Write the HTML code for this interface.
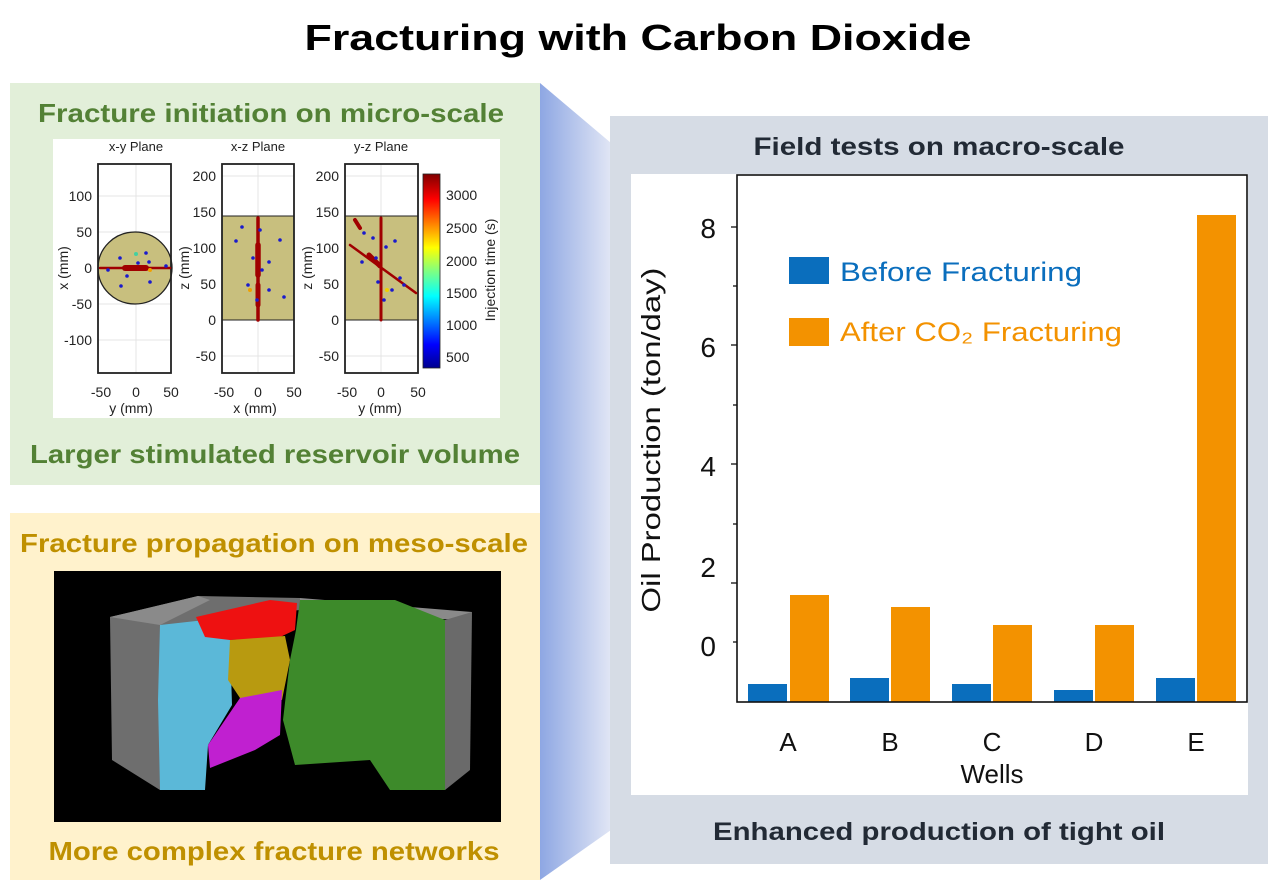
<!DOCTYPE html>
<html><head><meta charset="utf-8"><style>
html,body{margin:0;padding:0;background:#fff;}
svg{display:block;}
text{font-family:"Liberation Sans",Arial,sans-serif;}
</style></head><body>
<svg width="1268" height="887" viewBox="0 0 1268 887" xmlns="http://www.w3.org/2000/svg">
<defs>
<linearGradient id="bg" x1="0" y1="0" x2="1" y2="0">
<stop offset="0" stop-color="#8ea7e3"/><stop offset="1" stop-color="#e1e6f5"/>
</linearGradient>
<linearGradient id="jet" x1="0" y1="1" x2="0" y2="0">
<stop offset="0" stop-color="#00008f"/><stop offset="0.12" stop-color="#0000ff"/>
<stop offset="0.37" stop-color="#00ffff"/><stop offset="0.5" stop-color="#80ff80"/>
<stop offset="0.62" stop-color="#ffff00"/><stop offset="0.87" stop-color="#ff0000"/>
<stop offset="1" stop-color="#800000"/>
</linearGradient>
</defs>
<rect width="1268" height="887" fill="#fff"/>
<text x="638" y="50" text-anchor="middle" font-size="36" font-weight="bold" textLength="667" lengthAdjust="spacingAndGlyphs" fill="#000">Fracturing with Carbon Dioxide</text>

<!-- blue connector -->
<polygon points="540,83 611,143 611,830 540,880" fill="url(#bg)"/>

<!-- green panel -->
<rect x="10" y="83" width="530" height="402" fill="#e2efd9"/>
<text x="271" y="122" text-anchor="middle" font-size="26" font-weight="bold" fill="#538135" textLength="466" lengthAdjust="spacingAndGlyphs">Fracture initiation on micro-scale</text>
<text x="275" y="463" text-anchor="middle" font-size="26" font-weight="bold" fill="#538135" textLength="490" lengthAdjust="spacingAndGlyphs">Larger stimulated reservoir volume</text>
<rect x="53" y="139" width="447" height="279" fill="#fff"/>
<g font-size="13" fill="#222">
<text x="136" y="151" text-anchor="middle">x-y Plane</text>
<text x="258" y="151" text-anchor="middle">x-z Plane</text>
<text x="381" y="151" text-anchor="middle">y-z Plane</text>
</g>
<!-- xy -->
<g stroke="#e4e4e4" stroke-width="1">
<line x1="136" y1="164" x2="136" y2="373"/><line x1="98" y1="196" x2="171" y2="196"/><line x1="98" y1="232" x2="171" y2="232"/><line x1="98" y1="268" x2="171" y2="268"/><line x1="98" y1="304" x2="171" y2="304"/><line x1="98" y1="340" x2="171" y2="340"/>
<line x1="258" y1="164" x2="258" y2="373"/><line x1="222" y1="176" x2="294" y2="176"/><line x1="222" y1="356" x2="294" y2="356"/>
<line x1="381" y1="164" x2="381" y2="373"/><line x1="345" y1="176" x2="418" y2="176"/><line x1="345" y1="356" x2="418" y2="356"/>
</g>
<ellipse cx="135" cy="268" rx="37" ry="36" fill="#c8bf7e" stroke="#222" stroke-width="1.3"/>
<rect x="222" y="216" width="72" height="104" fill="#c8bf7e" stroke="#222" stroke-width="1"/>
<rect x="345" y="216" width="73" height="104" fill="#c8bf7e" stroke="#222" stroke-width="1"/>
<g fill="none" stroke="#222" stroke-width="1.8">
<rect x="98" y="164" width="73" height="209"/>
<rect x="222" y="164" width="72" height="209"/>
<rect x="345" y="164" width="73" height="209"/>
</g>
<!-- fracture dots -->
<g stroke="#a00000" stroke-linecap="round">
<line x1="100" y1="268" x2="170" y2="268" stroke-width="2.5"/>
<line x1="125" y1="268" x2="146" y2="268" stroke-width="6"/>
<line x1="258" y1="218" x2="258" y2="320" stroke-width="3.5"/>
<line x1="258" y1="245" x2="258" y2="275" stroke-width="5.5"/>
<line x1="258" y1="285" x2="258" y2="305" stroke-width="5"/>
<line x1="381" y1="218" x2="381" y2="320" stroke-width="3"/>
<line x1="350" y1="245" x2="416" y2="293" stroke-width="2.5"/>
<line x1="355" y1="220" x2="360" y2="228" stroke-width="4"/>
<line x1="369" y1="255" x2="380" y2="266" stroke-width="5"/>
</g>
<g fill="#1a1acc">
<circle cx="120" cy="258" r="1.8"/><circle cx="149" cy="262" r="1.8"/><circle cx="127" cy="276" r="1.8"/><circle cx="121" cy="286" r="1.8"/><circle cx="150" cy="282" r="1.8"/><circle cx="146" cy="253" r="1.8"/><circle cx="138" cy="263" r="1.8"/><circle cx="108" cy="270" r="1.8"/><circle cx="166" cy="266" r="1.8"/>
<circle cx="242" cy="227" r="1.8"/><circle cx="236" cy="241" r="1.8"/><circle cx="280" cy="240" r="1.8"/><circle cx="253" cy="258" r="1.8"/><circle cx="269" cy="262" r="1.8"/><circle cx="248" cy="285" r="1.8"/><circle cx="269" cy="290" r="1.8"/><circle cx="284" cy="297" r="1.8"/><circle cx="260" cy="230" r="1.8"/><circle cx="257" cy="300" r="1.8"/><circle cx="262" cy="270" r="1.8"/>
<circle cx="373" cy="238" r="1.8"/><circle cx="395" cy="241" r="1.8"/><circle cx="386" cy="247" r="1.8"/><circle cx="362" cy="262" r="1.8"/><circle cx="400" cy="278" r="1.8"/><circle cx="404" cy="285" r="1.8"/><circle cx="378" cy="282" r="1.8"/><circle cx="384" cy="300" r="1.8"/><circle cx="376" cy="258" r="1.8"/><circle cx="364" cy="233" r="1.8"/><circle cx="392" cy="290" r="1.8"/>
</g>
<circle cx="136" cy="254" r="2" fill="#44d0a0"/><circle cx="150" cy="270" r="2" fill="#f0a000"/><circle cx="250" cy="290" r="2" fill="#f0a000"/><circle cx="387" cy="290" r="2" fill="#f0d000"/>
<!-- tick labels -->
<g font-size="14" fill="#222" text-anchor="end">
<text x="92" y="201">100</text><text x="92" y="237">50</text><text x="92" y="273">0</text><text x="92" y="309">-50</text><text x="92" y="345">-100</text>
<text x="216" y="181">200</text><text x="216" y="217">150</text><text x="216" y="253">100</text><text x="216" y="289">50</text><text x="216" y="325">0</text><text x="216" y="361">-50</text>
<text x="339" y="181">200</text><text x="339" y="217">150</text><text x="339" y="253">100</text><text x="339" y="289">50</text><text x="339" y="325">0</text><text x="339" y="361">-50</text>
</g>
<g font-size="14" fill="#222" text-anchor="middle">
<text x="101" y="397">-50</text><text x="136" y="397">0</text><text x="171" y="397">50</text>
<text x="224" y="397">-50</text><text x="258" y="397">0</text><text x="294" y="397">50</text>
<text x="347" y="397">-50</text><text x="381" y="397">0</text><text x="418" y="397">50</text>
<text x="131" y="413">y (mm)</text><text x="255" y="413">x (mm)</text><text x="380" y="413">y (mm)</text>
<text transform="translate(68,268) rotate(-90)">x (mm)</text>
<text transform="translate(189,268) rotate(-90)">z (mm)</text>
<text transform="translate(312,268) rotate(-90)">z (mm)</text>
<text transform="translate(495,270) rotate(-90)">Injection time (s)</text>
</g>
<rect x="423" y="174" width="17" height="194" fill="url(#jet)" stroke="#222" stroke-width="0.8"/>
<g font-size="14" fill="#222">
<text x="446" y="200">3000</text><text x="446" y="233">2500</text><text x="446" y="266">2000</text><text x="446" y="298">1500</text><text x="446" y="330">1000</text><text x="446" y="362">500</text>
</g>

<!-- yellow panel -->
<rect x="10" y="513" width="530" height="367" fill="#fff2cc"/>
<text x="274" y="552" text-anchor="middle" font-size="26" font-weight="bold" fill="#bf9000" textLength="508" lengthAdjust="spacingAndGlyphs">Fracture propagation on meso-scale</text>
<text x="274" y="860" text-anchor="middle" font-size="26" font-weight="bold" fill="#bf9000" textLength="451" lengthAdjust="spacingAndGlyphs">More complex fracture networks</text>
<rect x="54" y="571" width="447" height="251" fill="#000"/>
<polygon points="110,617 198,596 300,598 300,610 200,620 160,640 160,790 112,760" fill="#6e6e6e"/>
<polygon points="110,617 198,596 210,600 160,625" fill="#8a8a8a"/>
<polygon points="300,598 472,612 462,620 300,612" fill="#8a8a8a"/>
<polygon points="445,620 472,612 470,770 445,790" fill="#6a6a6a"/>
<polygon points="160,625 205,620 230,640 232,705 208,745 205,790 160,790 158,700" fill="#5bb8d8"/>
<polygon points="196,617 270,600 297,603 295,630 278,638 230,640 205,637" fill="#ee1111"/>
<polygon points="230,640 285,636 290,660 282,700 240,698 228,680" fill="#b89a10"/>
<polygon points="240,698 282,690 280,735 255,750 210,768 208,745" fill="#c020d0"/>
<polygon points="300,600 395,600 445,620 445,790 390,790 370,760 295,765 283,720 290,660 296,630" fill="#3d8a2a"/>

<!-- right panel -->
<rect x="610" y="116" width="658" height="748" fill="#d6dce5"/>
<text x="939" y="155" text-anchor="middle" font-size="25" font-weight="bold" fill="#222a35" textLength="371" lengthAdjust="spacingAndGlyphs">Field tests on macro-scale</text>
<text x="939" y="840" text-anchor="middle" font-size="25" font-weight="bold" fill="#222a35" textLength="452" lengthAdjust="spacingAndGlyphs">Enhanced production of tight oil</text>
<rect x="631" y="174" width="617" height="621" fill="#fff"/>
<!-- bars -->
<g fill="#0a6ebd">
<rect x="748" y="684" width="39" height="18"/><rect x="850" y="678" width="39" height="24"/><rect x="952" y="684" width="39" height="18"/><rect x="1054" y="690" width="39" height="12"/><rect x="1156" y="678" width="39" height="24"/>
</g>
<g fill="#f39200">
<rect x="790" y="595" width="39" height="107"/><rect x="891" y="607" width="39" height="95"/><rect x="993" y="625" width="39" height="77"/><rect x="1095" y="625" width="39" height="77"/><rect x="1197" y="215" width="39" height="487"/>
</g>
<rect x="737" y="175" width="510" height="527" fill="none" stroke="#111" stroke-width="1.6"/>
<g stroke="#111" stroke-width="1.3">
<line x1="731" y1="227" x2="737" y2="227"/><line x1="733" y1="286" x2="737" y2="286"/><line x1="731" y1="345" x2="737" y2="345"/><line x1="733" y1="405" x2="737" y2="405"/><line x1="731" y1="464" x2="737" y2="464"/><line x1="733" y1="524" x2="737" y2="524"/><line x1="731" y1="583" x2="737" y2="583"/><line x1="733" y1="642" x2="737" y2="642"/>
</g>
<g font-size="28" fill="#111" text-anchor="end">
<text x="716" y="238">8</text><text x="716" y="357">6</text><text x="716" y="476">4</text><text x="716" y="577">2</text><text x="716" y="656">0</text>
</g>
<g font-size="26" fill="#111" text-anchor="middle">
<text x="788" y="751">A</text><text x="890" y="751">B</text><text x="992" y="751">C</text><text x="1094" y="751">D</text><text x="1196" y="751">E</text>
<text x="992" y="783">Wells</text>
<text transform="translate(660,440) rotate(-90)" textLength="345" lengthAdjust="spacingAndGlyphs">Oil Production (ton/day)</text>
</g>
<rect x="789" y="257" width="40" height="27" fill="#0a6ebd"/>
<rect x="789" y="318" width="40" height="28" fill="#f39200"/>
<text x="840" y="281" font-size="27" fill="#0a6ebd" textLength="242" lengthAdjust="spacingAndGlyphs">Before Fracturing</text>
<text x="840" y="341" font-size="27" fill="#f39200" textLength="282" lengthAdjust="spacingAndGlyphs">After CO₂ Fracturing</text>
</svg>
</body></html>
